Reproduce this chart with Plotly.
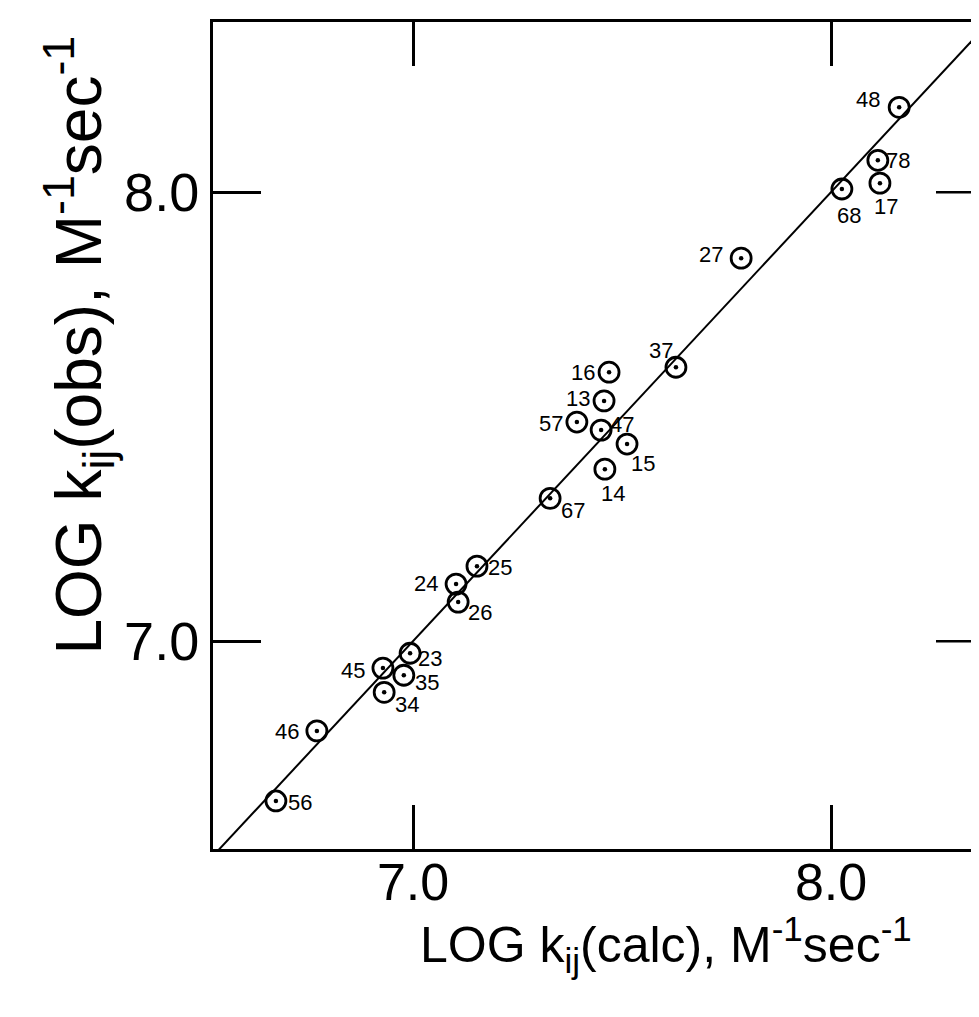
import plotly.graph_objects as go

# ---- data ----
labels = ["48", "78", "17", "68", "27", "37", "16", "13", "57", "47", "15",
          "14", "67", "25", "24", "26", "23", "45", "35", "34", "46", "56"]
log_k_calc = [8.163, 8.112, 8.117, 8.026, 7.785, 7.629, 7.469, 7.457, 7.392, 7.450, 7.512,
              7.459, 7.328, 7.153, 7.103, 7.108, 6.993, 6.928, 6.978, 6.931, 6.770, 6.672]
log_k_obs = [8.189, 8.071, 8.020, 8.007, 7.853, 7.610, 7.599, 7.535, 7.488, 7.470, 7.439,
             7.383, 7.318, 7.167, 7.127, 7.087, 6.973, 6.940, 6.924, 6.886, 6.800, 6.644]
# label offsets (pixels; dx right, dy down)
label_dx = [-31, 20, 6, 7, -30, -15, -26, -26, -26, 21, 16, 8, 23, 23, -30, 22, 20, -30, 23, 23, -30, 24]
label_dy = [-8, 0, 23, 26, -4, -17, 0, -2, 1, -6, 19, 24, 12, 1, -1, 10, 5, 2, 7, 12, 1, 2]

line_x = [6.50, 8.40]          # identity line y = x
line_y = list(line_x)

x_ticks = [7.0, 8.0]
x_ticktext = ["7.0", "8.0"]
y_ticks = [7.0, 8.0]
y_ticktext = ["7.0", "8.0"]

FONT = "Liberation Sans"

fig = go.Figure()
fig.add_trace(go.Scatter(x=line_x, y=line_y, mode="lines",
                         line=dict(color="black", width=2), hoverinfo="skip"))
fig.add_trace(go.Scatter(x=log_k_calc, y=log_k_obs, mode="markers",
                         marker=dict(symbol="circle-open", size=20, color="black",
                                     line=dict(color="black", width=2.8))))
fig.add_trace(go.Scatter(x=log_k_calc, y=log_k_obs, mode="markers", hoverinfo="skip",
                         marker=dict(symbol="circle", size=4.5, color="black",
                                     line=dict(width=0))))

for lab, xv, yv, dx, dy in zip(labels, log_k_calc, log_k_obs, label_dx, label_dy):
    fig.add_annotation(x=xv, y=yv, text=lab, showarrow=False, xshift=dx, yshift=-dy,
                       xanchor="center", yanchor="middle",
                       font=dict(family=FONT, size=22, color="black"))

# right-side inside ticks (the right frame edge lies just beyond the picture)
for yv in y_ticks:
    fig.add_shape(type="line", xref="x domain", yref="y", xsizemode="pixel", xanchor=1,
                  x0=-43, x1=0, y0=yv, y1=yv, line=dict(color="black", width=2.5))

fig.add_annotation(xref="paper", yref="paper", x=0.591, y=-0.116,
                   xanchor="center", yanchor="middle",
                   text="LOG k<sub>ij</sub>(calc), M<sup>-1</sup>sec<sup>-1</sup>",
                   showarrow=False, font=dict(family=FONT, size=50, color="black"))
fig.add_annotation(xref="paper", yref="paper", x=-0.176, y=0.609, textangle=-90,
                   xanchor="center", yanchor="middle",
                   text="LOG k<sub>ij</sub>(obs), M<sup>-1</sup>sec<sup>-1</sup>",
                   showarrow=False, font=dict(family=FONT, size=64, color="black"))

fig.update_layout(
    width=971, height=1000,
    margin=dict(l=205, r=0, t=14, b=159),
    paper_bgcolor="white", plot_bgcolor="white",
    showlegend=False,
    font=dict(family=FONT, color="black"),
    xaxis=dict(range=[6.5215, 8.354], tickvals=x_ticks, ticktext=x_ticktext,
               ticks="inside", ticklen=44, tickwidth=2.5, tickcolor="black",
               showline=True, linecolor="black", linewidth=3, mirror="ticks",
               showgrid=False, zeroline=False, ticklabelstandoff=-14,
               tickfont=dict(family=FONT, size=52, color="black")),
    yaxis=dict(range=[6.537, 8.379], tickvals=y_ticks, ticktext=y_ticktext,
               ticks="inside", ticklen=48, tickwidth=2.5, tickcolor="black",
               showline=True, linecolor="black", linewidth=3, mirror=False,
               showgrid=False, zeroline=False,
               tickfont=dict(family=FONT, size=54, color="black")),
)

fig.write_html("out.html")
